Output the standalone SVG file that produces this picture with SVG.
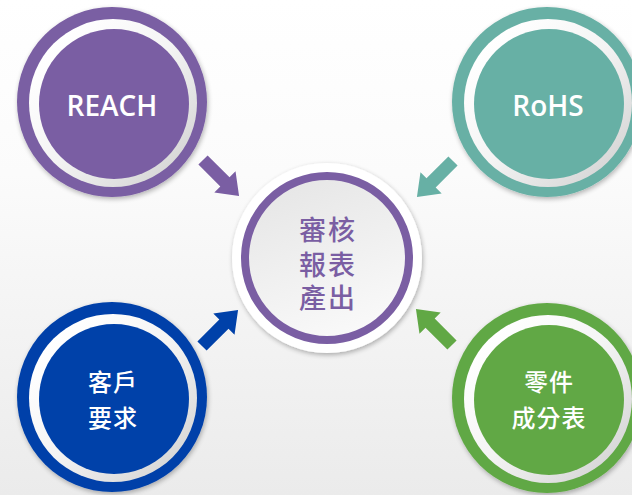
<svg xmlns="http://www.w3.org/2000/svg" width="632" height="495" viewBox="0 0 632 495">
<defs>
<linearGradient id="bg" x1="0" y1="0" x2="0" y2="1">
<stop offset="0" stop-color="#ffffff"/>
<stop offset="0.35" stop-color="#fbfbfb"/>
<stop offset="1" stop-color="#ebebeb"/>
</linearGradient>
<linearGradient id="ring" x1="0.15" y1="0.15" x2="0.85" y2="0.85">
<stop offset="0" stop-color="#ffffff"/>
<stop offset="0.5" stop-color="#f4f4f4"/>
<stop offset="1" stop-color="#d9d9d9"/>
</linearGradient>
<linearGradient id="core" x1="0.3" y1="0" x2="0.7" y2="1">
<stop offset="0" stop-color="#e6e6e6"/>
<stop offset="1" stop-color="#fafafa"/>
</linearGradient>
<filter id="sh" x="-20%" y="-20%" width="140%" height="140%">
<feGaussianBlur in="SourceAlpha" stdDeviation="2.5"/>
<feOffset dx="1" dy="2" result="b"/>
<feComponentTransfer><feFuncA type="linear" slope="0.3"/></feComponentTransfer>
<feMerge><feMergeNode/><feMergeNode in="SourceGraphic"/></feMerge>
</filter>
<path id="arr" d="M0,-6.5 L31,-6.5 L31,-15 L51,0 L31,15 L31,6.5 L0,6.5 Z"/>
</defs>
<style>
.lat{font-family:"Open Sans","Liberation Sans",sans-serif;font-size:28px;font-weight:600;fill:#ffffff;text-anchor:middle}
.cjk{font-family:"Noto Sans CJK TC","Noto Sans CJK SC",sans-serif;font-size:24px;font-weight:500;fill:#ffffff;text-anchor:middle;letter-spacing:1px}
.cen{font-family:"Noto Sans CJK TC","Noto Sans CJK SC",sans-serif;font-size:27px;font-weight:500;fill:#7a5ea3;text-anchor:middle;letter-spacing:2px}
.wr{fill:url(#ring)}
</style>
<rect width="632" height="495" fill="url(#bg)"/>

<g id="connectors">
<use href="#arr" fill="#7a5ea3" transform="translate(203,160) rotate(45)"/>
<use href="#arr" fill="#67b0a5" transform="translate(453,161) rotate(135)"/>
<use href="#arr" fill="#0041a9" transform="translate(202,346) rotate(-45)"/>
<use href="#arr" fill="#61a845" transform="translate(452,345) rotate(-135)"/>
</g>

<g id="reach">
<circle cx="112" cy="102" r="95" fill="#7a5ea3" filter="url(#sh)"/>
<circle cx="113" cy="103" r="84" class="wr"/>
<circle cx="114" cy="104" r="75" fill="#7a5ea3"/>
<text class="lat" x="112" y="116">REACH</text>
</g>

<g id="rohs">
<circle cx="547" cy="102" r="95" fill="#67b0a5" filter="url(#sh)"/>
<circle cx="548" cy="103" r="84" class="wr"/>
<circle cx="549" cy="104" r="75" fill="#67b0a5"/>
<text class="lat" x="548" y="116">RoHS</text>
</g>

<g id="customer">
<circle cx="112" cy="397" r="95" fill="#0041a9" filter="url(#sh)"/>
<circle cx="113" cy="398" r="84" class="wr"/>
<circle cx="114" cy="399" r="75" fill="#0041a9"/>
<text class="cjk" x="113" y="391">客戶</text>
<text class="cjk" x="113" y="427">要求</text>
</g>

<g id="parts">
<circle cx="547" cy="398" r="95" fill="#61a845" filter="url(#sh)"/>
<circle cx="548" cy="399" r="84" class="wr"/>
<circle cx="549" cy="400" r="75" fill="#61a845"/>
<text class="cjk" x="549" y="391">零件</text>
<text class="cjk" x="549" y="427">成分表</text>
</g>

<g id="center">
<circle cx="327" cy="258" r="95" fill="#ffffff" filter="url(#sh)"/>
<circle cx="327" cy="258" r="82" fill="url(#core)" stroke="#7a5ea3" stroke-width="8"/>
<text class="cen" x="328" y="240">審核</text>
<text class="cen" x="328" y="275">報表</text>
<text class="cen" x="328" y="308">產出</text>
</g>
</svg>
